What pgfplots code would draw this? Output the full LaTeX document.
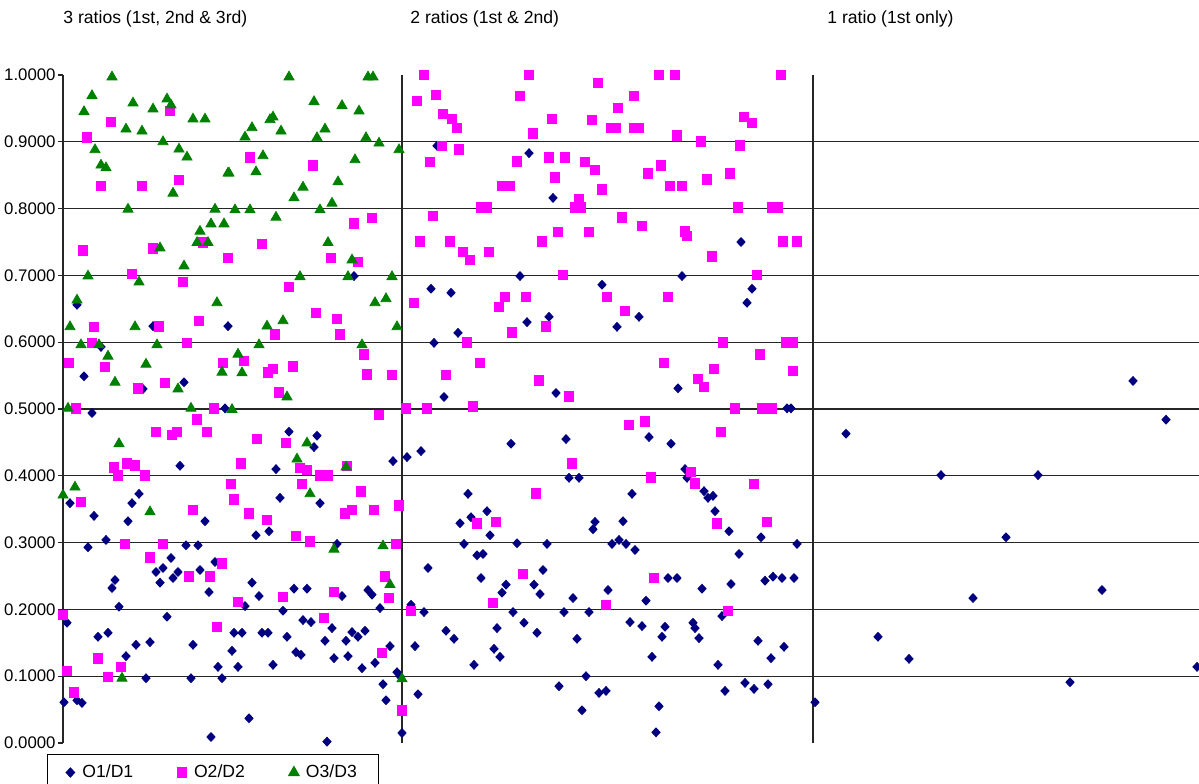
\documentclass[border=0pt]{standalone}
\usepackage{fontspec}
\setmainfont{Liberation Sans}
\usepackage{pgfplots}
\pgfplotsset{compat=1.18}
\definecolor{cnavy}{RGB}{0,0,128}
\definecolor{cmag}{RGB}{255,0,255}
\definecolor{cgreen}{RGB}{0,128,0}
\begin{document}
\begin{tikzpicture}
\useasboundingbox (0,0) rectangle (599.5pt,391.5pt);
\begin{axis}[
  scale only axis, width=568pt, height=334pt,
  at={(31.5pt,20pt)}, anchor=south west,
  xmin=63, xmax=1199, ymin=0, ymax=1,
  clip=false,
  axis lines*=left,
  x axis line style={draw=none},
  y axis line style={black!85, line width=0.6pt},
  xtick={402,813}, xticklabels={}, xmajorgrids=true,
  xtick style={draw=none},
  ytick={0,0.1,0.2,0.3,0.4,0.5,0.6,0.7,0.8,0.9,1},
  extra y ticks={0.1,0.2,0.3,0.4,0.5,0.6,0.7,0.8,0.9},
  extra y tick labels={},
  extra y tick style={grid=major, major tick length=0pt},
  grid style={black!85, line width=0.6pt},
  tick align=outside,
  major tick length=2.5pt,
  ytick style={black!85, line width=0.6pt},
  /pgf/number format/assume math mode=true,
  y tick label style={/pgf/number format/fixed, /pgf/number format/fixed zerofill, /pgf/number format/precision=4, font=\fontsize{8.4}{9}\selectfont, inner sep=1pt},
  legend columns=3,
  legend style={at={(axis description cs:-0.0141,-0.0165)}, anchor=north west, draw=black, line width=0.6pt, font=\fontsize{8.8}{10}\selectfont, inner xsep=9pt, inner ysep=3pt,
    /tikz/every even column/.append style={column sep=20pt}},
  legend image code/.code={\draw[#1] plot coordinates {(0pt,0pt)}; \path[draw=none,fill=none] (-2.4pt,0pt) (4pt,0pt);},
]
\addplot[only marks, mark=diamond*, mark size=2.2pt, mark options={xscale=1.25}, color=cnavy] coordinates {
(77,0.656)(84,0.549)(101,0.593)(153,0.624)(228,0.624)(184,0.540)(143,0.530)(225,0.501)(354,0.699)(92,0.494)(180,0.415)(70,0.359)(94,0.340)(132,0.359)(139,0.373)(128,0.332)(205,0.332)(88,0.293)(106,0.304)(186,0.296)(198,0.296)(156,0.256)(163,0.262)(160,0.240)(171,0.277)(173,0.247)(178,0.256)(200,0.259)(215,0.271)(209,0.226)(115,0.244)(112,0.232)(119,0.204)(67,0.180)(167,0.189)(98,0.159)(108,0.165)(136,0.147)(150,0.151)(126,0.130)(193,0.147)(146,0.097)(191,0.097)(218,0.114)(222,0.097)(64,0.061)(77,0.064)(82,0.060)(211,0.009)
(289,0.466)(317,0.460)(314,0.443)(276,0.410)(393,0.422)(407,0.428)(280,0.367)(320,0.359)(256,0.311)(269,0.317)(337,0.298)(252,0.240)(259,0.220)(294,0.231)(307,0.231)(342,0.220)(368,0.229)(372,0.222)(245,0.205)(283,0.198)(380,0.202)(303,0.184)(311,0.181)(332,0.172)(352,0.166)(358,0.159)(365,0.168)(234,0.165)(242,0.165)(262,0.165)(268,0.165)(287,0.159)(325,0.153)(346,0.153)(390,0.145)(232,0.138)(296,0.136)(301,0.132)(334,0.127)(348,0.130)(375,0.120)(238,0.114)(273,0.117)(362,0.112)(397,0.106)(400,0.100)(383,0.088)(386,0.064)(249,0.037)(327,0.002)(402,0.015)
(437,0.894)(529,0.883)(553,0.816)(520,0.699)(431,0.680)(451,0.674)(602,0.686)(527,0.630)(549,0.638)(458,0.614)(434,0.599)(444,0.518)(556,0.524)(741,0.750)(682,0.699)(752,0.680)(747,0.659)(639,0.638)(617,0.623)(678,0.531)(787,0.501)(791,0.501)
(566,0.455)(511,0.448)(421,0.437)(569,0.397)(579,0.397)(468,0.373)(487,0.347)(471,0.338)(460,0.329)(490,0.311)(595,0.331)(593,0.320)(464,0.298)(517,0.299)(547,0.298)(477,0.281)(483,0.283)(428,0.262)(543,0.259)(481,0.247)(506,0.237)(502,0.225)(534,0.237)(540,0.223)(573,0.217)(608,0.229)(411,0.207)(424,0.196)(513,0.196)(564,0.196)(589,0.196)(524,0.180)(537,0.165)(446,0.168)(454,0.156)(497,0.172)(577,0.156)(415,0.145)(494,0.141)(500,0.129)(474,0.117)(586,0.100)(559,0.085)(418,0.073)(599,0.075)(606,0.078)(582,0.049)
(649,0.458)(671,0.448)(685,0.410)(687,0.397)(632,0.373)(704,0.377)(713,0.370)(708,0.367)(715,0.347)(623,0.332)(729,0.317)(761,0.308)(797,0.298)(612,0.298)(619,0.304)(626,0.298)(635,0.289)(739,0.283)(668,0.247)(677,0.247)(765,0.243)(773,0.249)(782,0.247)(794,0.247)(702,0.231)(731,0.238)(646,0.213)(722,0.190)(630,0.181)(642,0.175)(665,0.174)(662,0.159)(693,0.180)(695,0.172)(699,0.157)(758,0.153)(784,0.144)(652,0.129)(718,0.117)(771,0.127)(725,0.078)(745,0.090)(754,0.081)(768,0.088)(659,0.055)(656,0.016)
(815,0.061)(846,0.463)(878,0.159)(909,0.126)(941,0.401)(973,0.217)(1006,0.308)(1038,0.401)(1070,0.091)(1102,0.229)(1133,0.542)(1166,0.484)(1197,0.114)
};
\addlegendentry{O1/D1}
\addplot[only marks, mark=square*, mark size=2.4pt, color=cmag] coordinates {
(170,0.946)(111,0.930)(87,0.907)(101,0.834)(142,0.834)(179,0.843)(83,0.737)(153,0.740)(203,0.749)(228,0.726)(132,0.702)(183,0.690)(199,0.632)(94,0.623)(159,0.624)(92,0.599)(187,0.599)(69,0.569)(105,0.563)(223,0.569)(165,0.539)(138,0.531)(76,0.501)(214,0.501)
(250,0.877)(313,0.865)(354,0.778)(372,0.786)(262,0.747)(331,0.726)(358,0.720)(289,0.683)(316,0.644)(337,0.635)(275,0.612)(340,0.612)(364,0.582)(244,0.572)(268,0.555)(273,0.560)(293,0.564)(367,0.552)(392,0.551)(279,0.525)
(156,0.466)(172,0.461)(177,0.466)(197,0.484)(207,0.466)(114,0.413)(118,0.401)(127,0.419)(135,0.416)(145,0.401)(81,0.361)(193,0.349)(125,0.298)(163,0.298)(150,0.278)(222,0.269)(189,0.249)(210,0.249)(63,0.192)(217,0.174)(98,0.127)(67,0.108)(121,0.114)(108,0.099)(74,0.076)
(379,0.491)(257,0.455)(286,0.449)(241,0.419)(300,0.412)(307,0.409)(320,0.401)(328,0.401)(347,0.415)(231,0.388)(302,0.388)(234,0.365)(361,0.377)(249,0.344)(267,0.334)(345,0.344)(352,0.349)(374,0.349)(399,0.356)(296,0.310)(310,0.302)(396,0.298)(385,0.249)(389,0.217)(238,0.211)(283,0.219)(334,0.226)(324,0.187)(382,0.135)(402,0.049)
(424,1.0)(529,1.0)(598,0.988)(436,0.970)(417,0.961)(520,0.969)(443,0.942)(452,0.934)(457,0.921)(552,0.934)(592,0.933)(611,0.921)(616,0.921)(634,0.921)(639,0.921)(533,0.913)(442,0.894)(459,0.889)(430,0.870)(517,0.871)(549,0.877)(565,0.877)(585,0.870)(595,0.858)(555,0.847)(502,0.834)(510,0.834)(602,0.829)(579,0.814)(575,0.802)(581,0.802)(481,0.802)(487,0.802)(433,0.789)(420,0.751)(450,0.751)(542,0.751)(558,0.765)(589,0.765)(463,0.735)(470,0.723)(489,0.735)(563,0.701)(607,0.668)(414,0.659)(505,0.668)(526,0.668)(499,0.653)(546,0.624)(512,0.615)(467,0.600)(480,0.569)(446,0.551)(539,0.543)(569,0.519)(406,0.501)(427,0.501)(473,0.504)
(659,1.0)(675,1.0)(781,1.0)(634,0.969)(618,0.951)(677,0.910)(701,0.901)(744,0.937)(752,0.928)(740,0.895)(661,0.865)(648,0.853)(670,0.834)(682,0.834)(707,0.844)(730,0.853)(738,0.802)(772,0.802)(778,0.802)(622,0.787)(642,0.774)(685,0.766)(687,0.759)(783,0.751)(797,0.751)(712,0.728)(757,0.701)(668,0.668)(625,0.647)(723,0.600)(786,0.600)(793,0.600)(760,0.582)(664,0.569)(714,0.560)(793,0.557)(698,0.545)(704,0.533)(735,0.501)(762,0.501)(772,0.501)
(572,0.419)(536,0.374)(477,0.329)(496,0.331)(523,0.253)(493,0.210)(411,0.198)(606,0.207)
(629,0.476)(645,0.481)(721,0.466)(651,0.398)(691,0.406)(695,0.389)(754,0.388)(717,0.329)(767,0.331)(654,0.247)(728,0.198)
};
\addlegendentry{O2/D2}
\addplot[only marks, mark=triangle*, mark size=2.9pt, color=cgreen] coordinates {
(112,0.997)(92,0.969)(84,0.945)(133,0.958)(153,0.949)(167,0.964)(171,0.955)(193,0.934)(205,0.934)(126,0.919)(142,0.916)(95,0.888)(101,0.865)(106,0.861)(163,0.900)(179,0.889)(187,0.877)(173,0.823)(228,0.853)(128,0.799)(215,0.799)(200,0.766)(211,0.777)(224,0.777)(197,0.749)(208,0.749)(160,0.741)(184,0.714)(88,0.699)(139,0.690)(77,0.663)(217,0.659)(70,0.623)(135,0.623)(81,0.596)(99,0.596)(157,0.596)(108,0.579)(146,0.567)(222,0.555)(115,0.540)(178,0.530)(68,0.501)(191,0.501)
(289,0.997)(368,0.997)(373,0.997)(314,0.960)(342,0.954)(359,0.946)(270,0.933)(273,0.937)(252,0.921)(245,0.907)(281,0.916)(317,0.906)(325,0.919)(366,0.906)(379,0.898)(399,0.888)(263,0.879)(355,0.873)(229,0.853)(256,0.855)(338,0.840)(303,0.832)(294,0.816)(332,0.808)(235,0.798)(250,0.798)(276,0.787)(320,0.798)(328,0.749)(352,0.723)(300,0.698)(348,0.698)(392,0.698)(375,0.659)(386,0.665)(267,0.624)(283,0.632)(397,0.623)(259,0.596)(362,0.596)(238,0.582)(242,0.554)(287,0.518)
(119,0.448)(75,0.383)(63,0.371)(150,0.346)(122,0.097)
(232,0.499)(307,0.449)(297,0.425)(346,0.413)(310,0.373)(334,0.290)(383,0.295)(390,0.237)(402,0.096)
};
\addlegendentry{O3/D3}
\end{axis}
\node[anchor=west, font=\fontsize{8.8}{10}\selectfont, inner sep=0pt] at (31.5pt,382pt) {3 ratios (1st, 2nd \& 3rd)};
\node[anchor=west, font=\fontsize{8.8}{10}\selectfont, inner sep=0pt] at (205pt,382pt) {2 ratios (1st \& 2nd)};
\node[anchor=west, font=\fontsize{8.8}{10}\selectfont, inner sep=0pt] at (413.5pt,382pt) {1 ratio (1st only)};
\end{tikzpicture}
\end{document}
